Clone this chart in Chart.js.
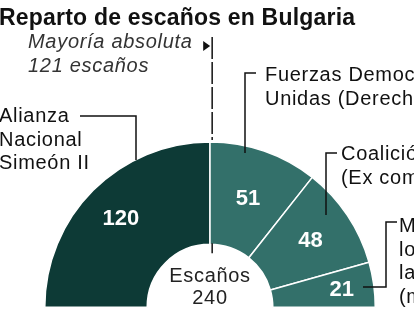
<!DOCTYPE html>
<html>
<head>
<meta charset="utf-8">
<script src="https://cdn.jsdelivr.net/npm/chart.js@4/dist/chart.umd.min.js"></script>
<style>
  html, body { margin: 0; padding: 0; background: #fff; overflow: hidden; }
  canvas { display: block; }
</style>
</head>
<body>
<canvas id="seats" width="414" height="311" style="width:414px;height:311px"></canvas>
<script>
const title = "Reparto de escaños en Bulgaria";
const parties = [
    ["Alianza", "Nacional", "Simeón II"],
    ["Fuerzas Democráticas", "Unidas (Derecha)"],
    ["Coalición por Bulgaria", "(Ex comunistas)"],
    ["Movimiento por", "los Derechos y", "las Libertades", "(minoría turca)"]
];
const seats = [120, 51, 48, 21];
const totalSeats = 240;
const majority = 121;
const majorityText = ["Mayoría absoluta", "121 escaños"];
const centreText = ["Escaños", "240"];

const colors = ["#0d3a36", "#33706a", "#33706a", "#33706a"];
const FONT = "'Liberation Sans', Arial, Helvetica, sans-serif";

// where the party names and their leader lines go (x, first baseline)
const labelPos = [[-1, 122], [265, 81], [341, 160], [399, 232]];
const leaders = [
    [[80, 116], [136, 116], [136, 160]],
    [[256, 73], [245, 73], [245, 153]],
    [[337, 153], [326, 153], [326, 215]],
    [[363, 287], [386, 287], [386, 222], [397, 222]]
];
// distance from centre for the numbers in each slice
const valueRadius = [126, 116, 121, 133];

const annotations = {
    id: "annotations",
    afterDraw(chart) {
        const ctx = chart.ctx;
        const arcs = chart.getDatasetMeta(0).data;
        const p = arcs[0].getProps(["x", "y", "innerRadius", "outerRadius"], true);
        ctx.save();

        // title
        ctx.fillStyle = "#111";
        ctx.textBaseline = "alphabetic";
        ctx.textAlign = "left";
        ctx.font = "bold 23px " + FONT;
        ctx.letterSpacing = "0.2px";
        ctx.fillText(title, -1, 25);

        // numbers inside slices
        ctx.letterSpacing = "0px";
        ctx.fillStyle = "#fff";
        ctx.textAlign = "center";
        ctx.textBaseline = "middle";
        ctx.font = "bold 22px " + FONT;
        arcs.forEach((arc, i) => {
            const a = arc.getProps(["x", "y", "startAngle", "endAngle"], true);
            const mid = (a.startAngle + a.endAngle) / 2;
            ctx.fillText(String(seats[i]), a.x + Math.cos(mid) * valueRadius[i], a.y + Math.sin(mid) * valueRadius[i] + 1);
        });

        // party names
        ctx.letterSpacing = "0.7px";
        ctx.fillStyle = "#111";
        ctx.textAlign = "left";
        ctx.textBaseline = "alphabetic";
        ctx.font = "20px " + FONT;
        parties.forEach((lines, i) => {
            lines.forEach((t, j) => ctx.fillText(t, labelPos[i][0], labelPos[i][1] + j * 23.5));
        });

        // leader lines
        ctx.strokeStyle = "#111";
        ctx.lineWidth = 1.5;
        leaders.forEach(pts => {
            ctx.beginPath();
            pts.forEach((pt, k) => k ? ctx.lineTo(pt[0], pt[1]) : ctx.moveTo(pt[0], pt[1]));
            ctx.stroke();
        });

        // majority marker
        const mx = p.x - Math.cos(Math.PI * majority / totalSeats) * p.outerRadius;
        const top = p.y - p.outerRadius;
        ctx.setLineDash([22, 3]);
        ctx.beginPath();
        ctx.moveTo(mx, 37);
        ctx.lineTo(mx, top - 2);
        ctx.stroke();
        ctx.setLineDash([]);
        ctx.beginPath();
        ctx.moveTo(mx, p.y - p.innerRadius - 1);
        ctx.lineTo(mx, p.y - p.innerRadius + 9);
        ctx.stroke();
        ctx.fillStyle = "#111";
        ctx.beginPath();
        ctx.moveTo(mx - 9, 41);
        ctx.lineTo(mx - 2, 46);
        ctx.lineTo(mx - 9, 51);
        ctx.closePath();
        ctx.fill();

        ctx.fillStyle = "#333";
        ctx.font = "italic 20px " + FONT;
        ctx.fillText(majorityText[0], 28, 48);
        ctx.fillText(majorityText[1], 28, 72);

        // centre text
        ctx.fillStyle = "#222";
        ctx.textAlign = "center";
        ctx.font = "20px " + FONT;
        ctx.fillText(centreText[0], p.x, 282);
        ctx.fillText(centreText[1], p.x, 304);
        ctx.restore();
    }
};

new Chart(document.getElementById("seats").getContext("2d"), {
    type: "doughnut",
    data: {
        labels: parties.map(l => l.join(" ")),
        datasets: [{
            data: seats,
            backgroundColor: colors,
            borderColor: "#ffffff",
            borderWidth: 1.5
        }]
    },
    options: {
        responsive: false,
        devicePixelRatio: 1,
        animation: false,
        rotation: -90,
        circumference: 180,
        cutout: "38%",
        layout: { padding: { left: 44, right: 38, top: 141, bottom: 3 } },
        plugins: {
            legend: { display: false },
            tooltip: { enabled: false },
            title: { display: false }
        }
    },
    plugins: [annotations]
});
</script>
</body>
</html>
